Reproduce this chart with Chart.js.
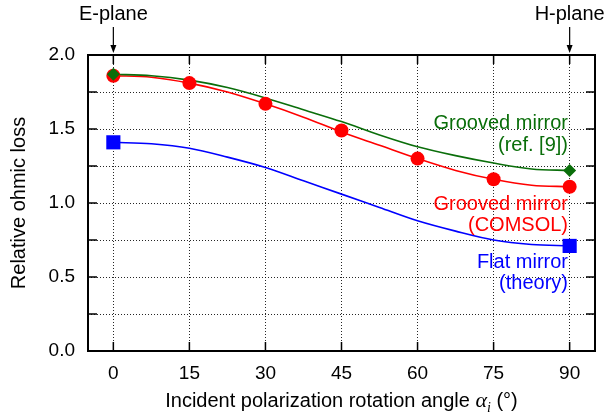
<!DOCTYPE html>
<html>
<head>
<meta charset="utf-8">
<script src="https://cdn.jsdelivr.net/npm/chart.js@4"></script>
<style>
  body { margin: 0; background: #fff; }
  canvas { display: block; }
</style>
</head>
<body>
<canvas id="c" width="606" height="418"></canvas>
<script>
// x ticks (deg) and y ticks
var xTicks = [0, 15, 30, 45, 60, 75, 90];
var yTicks = [0, 0.25, 0.5, 0.75, 1, 1.25, 1.5, 1.75, 2];

// smooth curves, every 7.5 deg
var curveAngles = [0, 7.5, 15, 22.5, 30, 37.5, 45, 52.5, 60, 67.5, 75, 82.5, 90];
var greenCurve = [1.87, 1.86, 1.83, 1.78, 1.71, 1.63, 1.55, 1.46, 1.38, 1.32, 1.27, 1.23, 1.22];
var redCurve   = [1.86, 1.85, 1.81, 1.75, 1.67, 1.58, 1.48, 1.39, 1.30, 1.22, 1.16, 1.12, 1.11];
var blueCurve  = [1.41, 1.40, 1.37, 1.31, 1.24, 1.15, 1.06, 0.97, 0.88, 0.81, 0.75, 0.72, 0.71];

// markers
var redAngles = [0, 15, 30, 45, 60, 75, 90];
var redPoints = [1.86, 1.81, 1.67, 1.49, 1.30, 1.16, 1.11];
var endAngles = [0, 90];
var greenPoints = [1.87, 1.22];
var bluePoints = [1.41, 0.71];

var GREEN = '#0a6e0a', RED = '#ff0000', BLUE = '#0000ff';
var FONT = "'Liberation Sans', Helvetica, Arial, sans-serif";

function pts(xs, ys) {
  return xs.map(function (x, i) { return {x: x, y: ys[i]}; });
}

function curve(ys, color) {
  return {
    data: pts(curveAngles, ys), showLine: true, pointRadius: 0,
    borderColor: color, borderWidth: 1.6, cubicInterpolationMode: 'monotone'
  };
}

function marks(xs, ys, color, style, r) {
  return {
    data: pts(xs, ys), showLine: false, pointStyle: style, pointRadius: r,
    backgroundColor: color, borderColor: color, borderWidth: 0
  };
}

// frame, inward ticks, labels on top
var decor = {
  id: 'decor',
  afterDraw: function (chart) {
    var ctx = chart.ctx, a = chart.chartArea;
    var xs = chart.scales.x, ys = chart.scales.y;
    ctx.save();
    ctx.strokeStyle = '#000';
    ctx.lineWidth = 1.5;
    ctx.beginPath();
    xTicks.forEach(function (v) {
      var px = xs.getPixelForValue(v);
      ctx.moveTo(px, a.bottom); ctx.lineTo(px, a.bottom - 9);
      ctx.moveTo(px, a.top); ctx.lineTo(px, a.top + 9);
    });
    yTicks.forEach(function (v) {
      var py = ys.getPixelForValue(v);
      ctx.moveTo(a.left, py); ctx.lineTo(a.left + 9, py);
      ctx.moveTo(a.right, py); ctx.lineTo(a.right - 9, py);
    });
    ctx.stroke();
    ctx.lineWidth = 2;
    ctx.strokeRect(a.left, a.top, a.right - a.left, a.bottom - a.top);

    // E-plane / H-plane arrows
    ctx.fillStyle = '#000';
    ctx.font = '20px ' + FONT;
    ctx.textAlign = 'center';
    ctx.textBaseline = 'alphabetic';
    [[0, 'E-plane'], [90, 'H-plane']].forEach(function (p) {
      var px = xs.getPixelForValue(p[0]);
      ctx.fillText(p[1], px, 20);
      ctx.lineWidth = 1.2;
      ctx.beginPath();
      ctx.moveTo(px, 27); ctx.lineTo(px, 48);
      ctx.stroke();
      ctx.beginPath();
      ctx.moveTo(px - 3, 45); ctx.lineTo(px + 3, 45); ctx.lineTo(px, 53);
      ctx.closePath();
      ctx.fill();
    });

    // series labels
    ctx.font = '20px ' + FONT;
    ctx.textAlign = 'right';
    var lx = 568;
    ctx.fillStyle = GREEN;
    ctx.fillText('Grooved mirror', lx, 129);
    ctx.fillText('(ref. [9])', lx, 151);
    ctx.fillStyle = RED;
    ctx.fillText('Grooved mirror', lx, 210);
    ctx.fillText('(COMSOL)', lx, 231);
    ctx.fillStyle = BLUE;
    ctx.fillText('Flat mirror', lx, 268);
    ctx.fillText('(theory)', lx, 289);

    // x title with italic alpha_i
    var base = 407;
    var parts = [
      ['Incident polarization rotation angle ', '20px ' + FONT, 0],
      ['\u03b1', 'italic 22px "Liberation Serif", serif', 0],
      ['i', 'italic 14px "Liberation Serif", serif', 5],
      [' (\u00b0)', '20px ' + FONT, 0]
    ];
    var total = 0;
    parts.forEach(function (p) { ctx.font = p[1]; total += ctx.measureText(p[0]).width; });
    var x0 = (a.left + a.right) / 2 - total / 2;
    ctx.fillStyle = '#000';
    ctx.textAlign = 'left';
    parts.forEach(function (p) {
      ctx.font = p[1];
      ctx.fillText(p[0], x0, base + p[2]);
      x0 += ctx.measureText(p[0]).width;
    });
    ctx.restore();
  }
};

new Chart(document.getElementById('c'), {
  type: 'scatter',
  data: {
    datasets: [
      marks(endAngles, greenPoints, GREEN, 'rectRot', 6.5),
      marks(redAngles, redPoints, RED, 'circle', 7),
      marks(endAngles, bluePoints, BLUE, 'rect', 10),
      curve(greenCurve, GREEN),
      curve(redCurve, RED),
      curve(blueCurve, BLUE)
    ]
  },
  options: {
    responsive: false,
    animation: false,
    devicePixelRatio: 1,
    layout: {padding: {top: 55, right: 11, left: 0, bottom: 0}},
    font: {family: FONT},
    plugins: {legend: {display: false}, tooltip: {enabled: false}},
    scales: {
      x: {
        type: 'linear', min: -5, max: 95,
        afterBuildTicks: function (s) { s.ticks = xTicks.map(function (v) { return {value: v}; }); },
        afterFit: function (s) { s.height = 67; },
        grid: {color: 'rgba(0,0,0,0.85)', lineWidth: 1, drawTicks: false},
        border: {display: false, dash: [1, 2]},
        ticks: {color: '#000', font: {family: FONT, size: 19}, padding: 11, autoSkip: false, maxRotation: 0},
        title: {display: false}
      },
      y: {
        type: 'linear', min: 0, max: 2,
        afterBuildTicks: function (s) { s.ticks = yTicks.map(function (v) { return {value: v}; }); },
        afterFit: function (s) { s.width = 88; },
        grid: {color: 'rgba(0,0,0,0.85)', lineWidth: 1, drawTicks: false},
        border: {display: false, dash: [1, 2]},
        ticks: {
          color: '#000', font: {family: FONT, size: 19}, padding: 13, autoSkip: false,
          callback: function (v) { return Math.abs(v * 2 - Math.round(v * 2)) < 1e-6 ? v.toFixed(1) : ''; }
        },
        title: {display: true, text: 'Relative ohmic loss', color: '#000',
          font: {family: FONT, size: 20}, padding: {top: 7, bottom: 0}}
      }
    }
  },
  plugins: [decor]
});
</script>
</body>
</html>
